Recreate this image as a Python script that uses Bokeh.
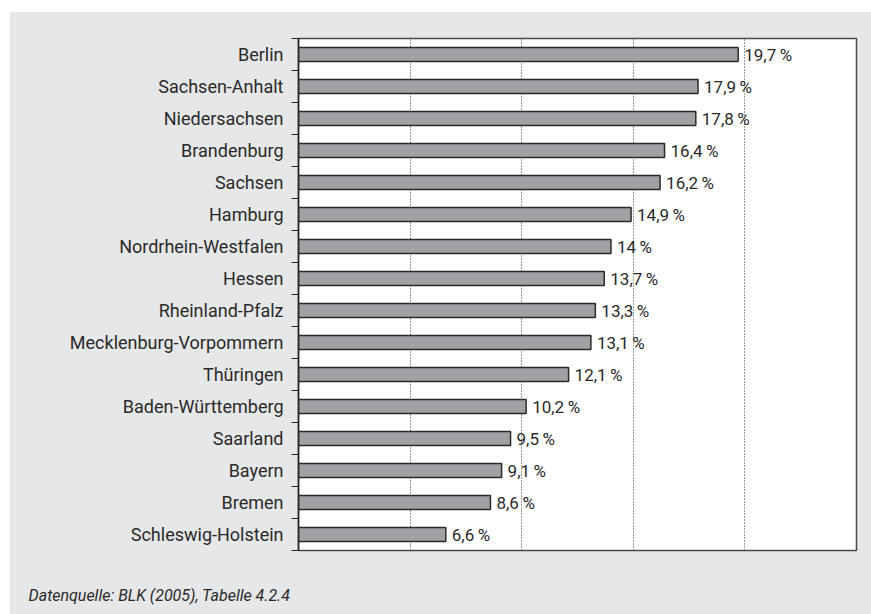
from bokeh.plotting import figure
from bokeh.models import Range1d, FixedTicker, Spacer
from bokeh.layouts import column, row
from bokeh.core.properties import value
from bokeh.embed import file_html
from bokeh.resources import INLINE

# ---- data ----
states = ["Berlin", "Sachsen-Anhalt", "Niedersachsen", "Brandenburg", "Sachsen",
          "Hamburg", "Nordrhein-Westfalen", "Hessen", "Rheinland-Pfalz",
          "Mecklenburg-Vorpommern", "Thüringen", "Baden-Württemberg", "Saarland",
          "Bayern", "Bremen", "Schleswig-Holstein"]
shares = [19.7, 17.9, 17.8, 16.4, 16.2, 14.9, 14.0, 13.7, 13.3, 13.1, 12.1,
          10.2, 9.5, 9.1, 8.6, 6.6]
grid_ticks = [5, 10, 15, 20]
x_max = 25
source_note = ["Datenquelle: BLK (2005), Tabelle 4.2.4"]

FONT = "Roboto"
BG = "#e6e7e8"

n = len(states)
ys = [n - 0.5 - i for i in range(n)]
def fmt(v):
    s = ("%d" % v) if float(v).is_integer() else ("%.1f" % v).replace(".", ",")
    return s + "\u2009%"
labels = [fmt(v) for v in shares]

p = figure(width=861, height=540, output_backend="svg", toolbar_location=None,
           x_range=Range1d(0, x_max), y_range=Range1d(0, n),
           min_border_left=288, min_border_right=15,
           min_border_top=26, min_border_bottom=2)
p.background_fill_color = "white"
p.border_fill_color = BG
p.outline_line_color = "#4a4a4a"
p.outline_line_width = 1.5

p.xaxis.visible = False
p.ygrid.grid_line_color = None
p.xgrid.ticker = FixedTicker(ticks=grid_ticks)
p.xgrid.grid_line_color = "#333333"
p.xgrid.grid_line_dash = "1 2"
p.xgrid.grid_line_width = 1

yax = p.yaxis[0]
yax.ticker = FixedTicker(ticks=ys, minor_ticks=list(range(n + 1)))
yax.major_label_overrides = {y: s for y, s in zip(ys, states)}
yax.major_tick_line_color = None
yax.major_tick_out = 7
yax.major_tick_in = 0
yax.minor_tick_in = 0
yax.minor_tick_out = 7
yax.minor_tick_line_color = "#222222"
yax.minor_tick_line_width = 1.2
yax.axis_line_color = "#222222"
yax.axis_line_width = 1.5
yax.major_label_standoff = 8
yax.major_label_text_font = FONT
yax.major_label_text_font_size = "18px"
yax.major_label_text_color = "#2a2a2a"

p.hbar(y=ys, left=0, right=shares, height=0.43, fill_color="#a0a1a5",
       line_color="#2b2b2b", line_width=1.5)

p.text(x=shares, y=ys, text=labels, x_offset=6, text_baseline="middle",
       text_font=value(FONT), text_font_size="17px", text_color="#2a2a2a")

# footer strip with the source note (pixel-like coordinates)
foot = figure(width=861, height=62, output_backend="svg", toolbar_location=None,
              x_range=Range1d(0, 861), y_range=Range1d(0, 62),
              x_axis_type=None, y_axis_type=None,
              min_border_left=0, min_border_right=0,
              min_border_top=0, min_border_bottom=0)
foot.background_fill_color = BG
foot.border_fill_color = BG
foot.outline_line_color = None
foot.grid.grid_line_color = None
foot.text(x=[18], y=[19], text=source_note, text_baseline="alphabetic",
          text_font=value(FONT), text_font_size="16px", text_font_style="italic",
          text_color="#2a2a2a")

panel = column(row(p), row(foot), spacing=0, styles={"background-color": BG})
layout = column(Spacer(height=12), row(Spacer(width=10), panel))
open("out.html", "w").write(file_html(layout, INLINE))
